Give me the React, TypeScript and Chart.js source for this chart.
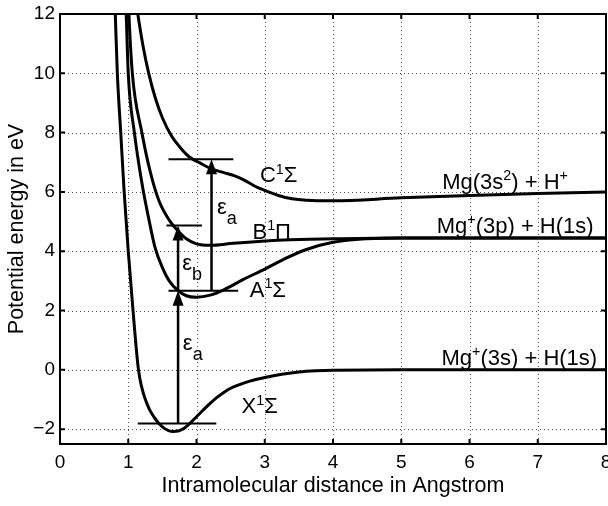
import React, { useEffect, useRef } from "react";
import { Chart, registerables } from "chart.js";
Chart.register(...registerables);

// ---- data (distance in Angstrom, energy in eV) ----
const X_R = [0.78, 0.81, 0.84, 0.89, 0.94, 1.0, 1.07, 1.15, 1.27, 1.38, 1.5, 1.66, 1.8, 1.9, 2.0, 2.1, 2.2, 2.3, 2.4, 2.5, 2.6, 2.78, 3.0, 3.25, 3.5, 3.75, 4.0, 5.0, 6.0, 7.0, 8.0];
const X_E = [14, 12, 10, 8, 6, 4, 2, 0, -1.12, -1.6, -1.92, -2.08, -2.0, -1.81, -1.58, -1.35, -1.13, -0.93, -0.76, -0.62, -0.52, -0.38, -0.26, -0.15, -0.07, -0.03, -0.01, 0, 0, 0, 0];

const A_R = [0.94, 0.97, 1.0, 1.09, 1.2, 1.3, 1.39, 1.5, 1.6, 1.73, 1.85, 2.0, 2.2, 2.4, 2.68, 3.0, 3.27, 3.6, 4.0, 4.5, 5.0, 6.0, 7.0, 8.0];
const A_E = [14, 12, 10, 8, 6.3, 5.1, 4.15, 3.45, 3.0, 2.67, 2.5, 2.45, 2.52, 2.7, 3.04, 3.4, 3.72, 4.05, 4.3, 4.42, 4.45, 4.45, 4.45, 4.45];

const B_R = [0.98, 1.01, 1.06, 1.2, 1.32, 1.45, 1.6, 1.73, 1.85, 2.0, 2.2, 2.54, 3.27, 4.0, 5.0, 6.0, 7.0, 8.0];
const B_E = [14, 12, 10, 8, 6.7, 5.7, 5.05, 4.68, 4.42, 4.25, 4.2, 4.27, 4.38, 4.42, 4.45, 4.45, 4.45, 4.45];

const C_R = [1.08, 1.14, 1.22, 1.3, 1.4, 1.5, 1.63, 1.76, 1.9, 2.05, 2.22, 2.4, 2.55, 2.7, 2.85, 3.0, 3.2, 3.4, 3.7, 4.0, 5.0, 6.0, 7.0, 8.0];
const C_E = [13.0, 12.0, 10.88, 10.0, 9.14, 8.5, 7.9, 7.5, 7.17, 6.98, 6.78, 6.65, 6.55, 6.4, 6.2, 6.05, 5.88, 5.77, 5.71, 5.7, 5.8, 5.88, 5.95, 6.0];

// horizontal level markers
const LEVEL_Y = [-1.81, 2.67, 4.87, 7.1];
const LEVEL_X_START = [1.14, 1.59, 1.56, 1.59];
const LEVEL_X_END = [2.29, 2.61, 2.08, 2.54];

// vertical excitation arrows
const ARROW_X = [1.73, 1.73, 2.22];
const ARROW_FROM = [-1.81, 2.67, 2.67];
const ARROW_TO = [2.67, 4.87, 7.1];

// annotations (^ = superscript, _ = subscript of next char)
const LABEL_TEXT = ["C^1Σ", "B^1Π", "A^1Σ", "X^1Σ", "ε_a", "ε_b", "ε_a", "Mg(3s^2) + H^+", "Mg^+(3p) + H(1s)", "Mg^+(3s) + H(1s)"];
const LABEL_X = [2.93, 2.82, 2.78, 2.66, 1.80, 1.79, 2.30, 5.6, 5.52, 5.59];
const LABEL_Y = [6.32, 4.42, 2.47, -1.45, 0.68, 3.38, 5.24, 6.11, 4.63, 0.17];

const X_MIN = 0, X_MAX = 8, X_STEP = 1;
const Y_MIN = -2.5, Y_MAX = 12, Y_STEP = 2;

const FONT = '"Liberation Sans", Arial, Helvetica, sans-serif';

function toPts(r: number[], e: number[]) {
  return r.map((v, i) => ({ x: v, y: e[i] }));
}

function drawRich(ctx: CanvasRenderingContext2D, text: string, x: number, y: number, size: number) {
  const segs: { t: string; m: string }[] = [];
  let i = 0;
  while (i < text.length) {
    const ch = text[i];
    if ((ch === "^" || ch === "_") && i + 1 < text.length) {
      segs.push({ t: text[i + 1], m: ch === "^" ? "sup" : "sub" });
      i += 2;
    } else {
      const last = segs[segs.length - 1];
      if (last && last.m === "n") last.t += ch;
      else segs.push({ t: ch, m: "n" });
      i += 1;
    }
  }
  let cx = x;
  for (const s of segs) {
    let fs = size;
    let dy = 0;
    if (s.m === "sup") { fs = size * 0.65; dy = -size * 0.38; }
    if (s.m === "sub") { fs = size * 0.82; dy = size * 0.45; }
    ctx.font = `${fs}px ${FONT}`;
    ctx.fillText(s.t, cx, y + dy);
    cx += ctx.measureText(s.t).width;
  }
}

const overlay = {
  id: "matlabOverlay",
  beforeDatasetsDraw(chart: any) {
    const { ctx, chartArea: a, scales } = chart;
    const xs = scales.x, ys = scales.y;
    ctx.save();
    ctx.strokeStyle = "rgba(0,0,0,0.7)";
    ctx.lineWidth = 1;
    ctx.setLineDash([1, 3]);
    for (const t of xs.ticks) {
      const px = Math.round(xs.getPixelForValue(t.value)) + 0.5;
      if (px <= a.left + 1 || px >= a.right - 1) continue;
      ctx.beginPath(); ctx.moveTo(px, a.top); ctx.lineTo(px, a.bottom); ctx.stroke();
    }
    for (const t of ys.ticks) {
      const py = Math.round(ys.getPixelForValue(t.value)) + 0.5;
      if (py <= a.top + 1 || py >= a.bottom - 1) continue;
      ctx.beginPath(); ctx.moveTo(a.left, py); ctx.lineTo(a.right, py); ctx.stroke();
    }
    ctx.restore();
  },
  afterDatasetsDraw(chart: any) {
    const { ctx, scales } = chart;
    const xs = scales.x, ys = scales.y;
    ctx.save();
    ctx.fillStyle = "#000";
    ctx.strokeStyle = "#000";
    const headLen = 15, headW = 11;
    for (let i = 0; i < ARROW_X.length; i++) {
      const px = xs.getPixelForValue(ARROW_X[i]);
      const p0 = ys.getPixelForValue(ARROW_FROM[i]);
      const p1 = ys.getPixelForValue(ARROW_TO[i]);
      ctx.lineWidth = 2.5;
      ctx.beginPath(); ctx.moveTo(px, p0); ctx.lineTo(px, p1 + headLen - 2); ctx.stroke();
      ctx.beginPath();
      ctx.moveTo(px, p1);
      ctx.lineTo(px - headW / 2, p1 + headLen);
      ctx.lineTo(px + headW / 2, p1 + headLen);
      ctx.closePath();
      ctx.fill();
    }
    ctx.textBaseline = "alphabetic";
    ctx.textAlign = "left";
    for (let i = 0; i < LABEL_TEXT.length; i++) {
      const px = xs.getPixelForValue(LABEL_X[i]);
      const py = ys.getPixelForValue(LABEL_Y[i]);
      drawRich(ctx, LABEL_TEXT[i], px, py, 22);
    }
    ctx.restore();
  },
  afterDraw(chart: any) {
    const { ctx, chartArea: a, scales } = chart;
    const xs = scales.x, ys = scales.y;
    ctx.save();
    ctx.strokeStyle = "#000";
    ctx.lineWidth = 2;
    ctx.setLineDash([]);
    ctx.strokeRect(a.left, a.top, a.right - a.left, a.bottom - a.top);
    const tl = 5;
    for (const t of xs.ticks) {
      const px = xs.getPixelForValue(t.value);
      ctx.beginPath();
      ctx.moveTo(px, a.bottom); ctx.lineTo(px, a.bottom - tl);
      ctx.moveTo(px, a.top); ctx.lineTo(px, a.top + tl);
      ctx.stroke();
    }
    for (const t of ys.ticks) {
      const py = ys.getPixelForValue(t.value);
      ctx.beginPath();
      ctx.moveTo(a.left, py); ctx.lineTo(a.left + tl, py);
      ctx.moveTo(a.right, py); ctx.lineTo(a.right - tl, py);
      ctx.stroke();
    }
    ctx.restore();
  },
};

export default function App() {
  const ref = useRef<HTMLCanvasElement | null>(null);
  useEffect(() => {
    if (!ref.current) return;
    const curve = (r: number[], e: number[]) => ({
      data: toPts(r, e),
      borderColor: "#000",
      borderWidth: 3,
      pointRadius: 0,
      cubicInterpolationMode: "monotone" as const,
      fill: false,
    });
    const levels = LEVEL_Y.map((yv, i) => ({
      data: [{ x: LEVEL_X_START[i], y: yv }, { x: LEVEL_X_END[i], y: yv }],
      borderColor: "#000",
      borderWidth: 2,
      pointRadius: 0,
      fill: false,
    }));
    const chart = new Chart(ref.current, {
      type: "line",
      data: {
        datasets: [curve(X_R, X_E), curve(A_R, A_E), curve(B_R, B_E), curve(C_R, C_E), ...levels] as any,
      },
      options: {
        animation: false,
        responsive: false,
        maintainAspectRatio: false,
        layout: { padding: { top: 14, right: 2, left: 0, bottom: 0 } },
        plugins: { legend: { display: false }, tooltip: { enabled: false } },
        scales: {
          x: {
            type: "linear",
            min: X_MIN,
            max: X_MAX,
            grid: { display: false, drawTicks: false },
            border: { display: false },
            ticks: {
              stepSize: X_STEP,
              includeBounds: false,
              maxRotation: 0,
              autoSkip: false,
              padding: 7,
              color: "#000",
              font: { family: FONT, size: 19 },
            },
            title: {
              display: true,
              text: "Intramolecular distance in Angstrom",
              color: "#000",
              font: { family: FONT, size: 21.5 },
              padding: { top: 0, bottom: 7 },
            },
            afterFit(s: any) { s.height = 62; s.paddingLeft = 0; s.paddingRight = 0; },
          },
          y: {
            type: "linear",
            min: Y_MIN,
            max: Y_MAX,
            grid: { display: false, drawTicks: false },
            border: { display: false },
            ticks: {
              stepSize: Y_STEP,
              includeBounds: false,
              autoSkip: false,
              padding: 5,
              color: "#000",
              font: { family: FONT, size: 19 },
              callback: (v: any) => String(v).replace("-", "\u2212"),
            },
            title: {
              display: true,
              text: "Potential energy in eV",
              color: "#000",
              font: { family: FONT, size: 21.5 },
              padding: { top: 4, bottom: 0 },
            },
            afterFit(s: any) { s.width = 60; s.paddingTop = 0; s.paddingBottom = 0; },
          },
        },
      } as any,
      plugins: [overlay],
    });
    return () => chart.destroy();
  }, []);
  return (
    <div style={{ position: "fixed", left: 0, top: 0, width: 608, height: 506, background: "#fff" }}>
      <canvas ref={ref} width={608} height={506} />
    </div>
  );
}
